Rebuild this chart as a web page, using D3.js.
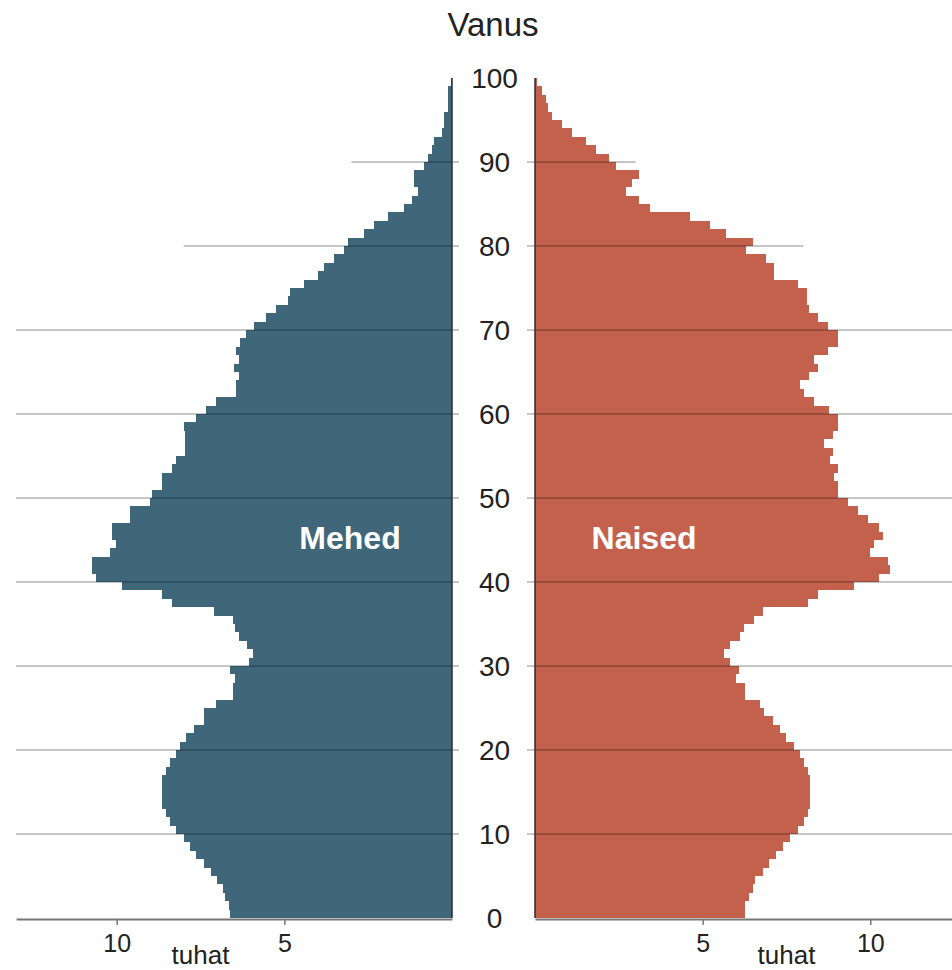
<!DOCTYPE html>
<html>
<head>
<meta charset="utf-8">
<script src="https://cdn.jsdelivr.net/npm/d3@7"></script>
<style>
  html, body { margin: 0; padding: 0; background: #fff; }
  svg { display: block; font-family: "Liberation Sans", Arial, sans-serif; }
</style>
</head>
<body>
<svg id="chart" width="952" height="970"></svg>
<script>
// Age groups 0..99 (one-year bands)
const ages = d3.range(0, 100);

// Men, thousands (index = age)
const male = [
  6.62, 6.64, 6.76, 6.82, 7.02, 7.20, 7.40, 7.64, 7.81, 7.99,
  8.23, 8.41, 8.54, 8.64, 8.64, 8.64, 8.64, 8.54, 8.41, 8.23,
  8.11, 7.93, 7.69, 7.40, 7.40, 7.04, 6.52, 6.52, 6.46, 6.62,
  6.05, 5.93, 6.12, 6.34, 6.46, 6.52, 7.11, 8.34, 8.64, 9.84,
  10.63, 10.74, 10.74, 10.20, 10.02, 10.14, 10.14, 9.60, 9.60, 9.01,
  8.95, 8.64, 8.64, 8.34, 8.23, 7.96, 7.96, 7.96, 7.99, 7.64,
  7.35, 7.04, 6.44, 6.44, 6.34, 6.49, 6.34, 6.44, 6.32, 6.14,
  5.91, 5.56, 5.25, 4.90, 4.83, 4.41, 3.99, 3.81, 3.51, 3.21,
  3.09, 2.61, 2.33, 1.90, 1.42, 1.20, 1.02, 1.12, 1.12, 0.83,
  0.71, 0.61, 0.54, 0.29, 0.23, 0.23, 0.11, 0.11, 0.11, 0.04
];

// Women, thousands (index = age)
const female = [
  6.27, 6.27, 6.39, 6.49, 6.57, 6.81, 6.99, 7.19, 7.41, 7.60,
  7.83, 8.03, 8.15, 8.21, 8.21, 8.21, 8.21, 8.13, 8.03, 7.90,
  7.73, 7.49, 7.31, 7.11, 6.82, 6.71, 6.27, 6.27, 6.00, 6.09,
  5.82, 5.64, 5.82, 6.11, 6.22, 6.52, 6.81, 8.13, 8.43, 9.50,
  10.27, 10.59, 10.52, 9.99, 10.10, 10.39, 10.27, 9.92, 9.62, 9.33,
  9.03, 9.03, 8.93, 9.03, 8.80, 8.90, 8.61, 8.90, 9.03, 9.03,
  8.78, 8.31, 8.03, 7.90, 8.18, 8.43, 8.33, 8.73, 9.03, 9.03,
  8.73, 8.43, 8.18, 8.12, 8.12, 7.83, 7.13, 7.13, 6.89, 6.29,
  6.51, 5.69, 5.22, 4.62, 3.43, 3.11, 2.71, 2.88, 3.11, 2.42,
  2.22, 1.82, 1.51, 1.09, 0.80, 0.51, 0.39, 0.33, 0.20, 0.07
];

const ageTicks = [0, 10, 20, 30, 40, 50, 60, 70, 80, 90, 100];
const gridAges = [10, 20, 30, 40, 50, 60, 70, 80, 90];
const gridReach = [13, 13, 13, 13, 13, 13, 13, 8, 3]; // thousands, per grid age
const valueTicks = [5, 10];
const labels = { title: "Vanus", men: "Mehed", women: "Naised", unit: "tuhat" };

const svg = d3.select("#chart");

const maleZero = 452, femaleZero = 535, pxPerUnit = 33.53, maxV = 13;
const y = d3.scaleLinear().domain([0, 100]).range([918, 78]);
const xM = d3.scaleLinear().domain([0, maxV]).range([maleZero, maleZero - maxV * pxPerUnit]);
const xF = d3.scaleLinear().domain([0, maxV]).range([femaleZero, femaleZero + maxV * pxPerUnit]);

const colM = "#3f6779", colF = "#c4614d";

// bars
svg.append("g").selectAll("rect").data(ages).join("rect")
  .attr("x", a => xM(male[a]))
  .attr("width", a => xM(0) - xM(male[a]))
  .attr("y", a => y(a + 1))
  .attr("height", a => y(a) - y(a + 1))
  .attr("fill", colM)
  .attr("shape-rendering", "crispEdges");

svg.append("g").selectAll("rect").data(ages).join("rect")
  .attr("x", xF(0))
  .attr("width", a => xF(female[a]) - xF(0))
  .attr("y", a => y(a + 1))
  .attr("height", a => y(a) - y(a + 1))
  .attr("fill", colF)
  .attr("shape-rendering", "crispEdges");

// grid lines (on top of bars)
const grid = svg.append("g").attr("stroke", "#000").attr("stroke-opacity", 0.3).attr("stroke-width", 1.5);
gridAges.forEach((g, i) => {
  grid.append("line")
    .attr("x1", xM(gridReach[i])).attr("x2", xM(0) + 7)
    .attr("y1", y(g)).attr("y2", y(g));
  grid.append("line")
    .attr("x1", xF(0) - 8).attr("x2", xF(gridReach[i]))
    .attr("y1", y(g)).attr("y2", y(g));
});

// vertical axis lines
svg.append("line").attr("x1", xM(0)).attr("x2", xM(0)).attr("y1", y(0)).attr("y2", y(100))
  .attr("stroke", "#2b2b2b").attr("stroke-width", 1.5);
svg.append("line").attr("x1", xF(0)).attr("x2", xF(0)).attr("y1", y(0)).attr("y2", y(100))
  .attr("stroke", "#2b2b2b").attr("stroke-width", 1.5);

// bottom axes
function styleAxis(g) {
  g.select(".domain").attr("stroke", "#777").attr("stroke-width", 2);
  g.selectAll(".tick line").attr("stroke", "#777").attr("stroke-width", 1.5);
  g.selectAll(".tick text").attr("font-size", 25).attr("fill", "#222")
    .attr("font-family", "Liberation Sans, Arial, sans-serif").attr("dy", "0.95em");
}
svg.append("g").attr("transform", `translate(0,${y(0) + 1})`)
  .call(d3.axisBottom(xM).tickValues(valueTicks).tickSizeInner(6).tickSizeOuter(0).tickPadding(3))
  .call(styleAxis);
svg.append("g").attr("transform", `translate(0,${y(0) + 1})`)
  .call(d3.axisBottom(xF).tickValues(valueTicks).tickSizeInner(6).tickSizeOuter(0).tickPadding(3))
  .call(styleAxis);

// unit labels
svg.append("text").attr("x", (xM(5) + xM(10)) / 2).attr("y", 964).attr("text-anchor", "middle")
  .attr("font-size", 26).attr("fill", "#222").text(labels.unit);
svg.append("text").attr("x", (xF(5) + xF(10)) / 2).attr("y", 964).attr("text-anchor", "middle")
  .attr("font-size", 26).attr("fill", "#222").text(labels.unit);

// center age labels
svg.append("g").selectAll("text").data(ageTicks).join("text")
  .attr("x", (xM(0) + xF(0)) / 2 + 1)
  .attr("y", d => y(d))
  .attr("dy", "0.36em")
  .attr("text-anchor", "middle")
  .attr("font-size", 28)
  .attr("fill", "#222")
  .text(d => d);

// title
svg.append("text").attr("x", 493).attr("y", 36).attr("text-anchor", "middle")
  .attr("font-size", 33).attr("fill", "#222").text(labels.title);

// series labels
svg.append("text").attr("x", 350).attr("y", 549).attr("text-anchor", "middle")
  .attr("font-size", 32).attr("font-weight", "bold").attr("fill", "#fff").text(labels.men);
svg.append("text").attr("x", 644).attr("y", 549).attr("text-anchor", "middle")
  .attr("font-size", 32).attr("font-weight", "bold").attr("fill", "#fff").text(labels.women);
</script>
</body>
</html>
